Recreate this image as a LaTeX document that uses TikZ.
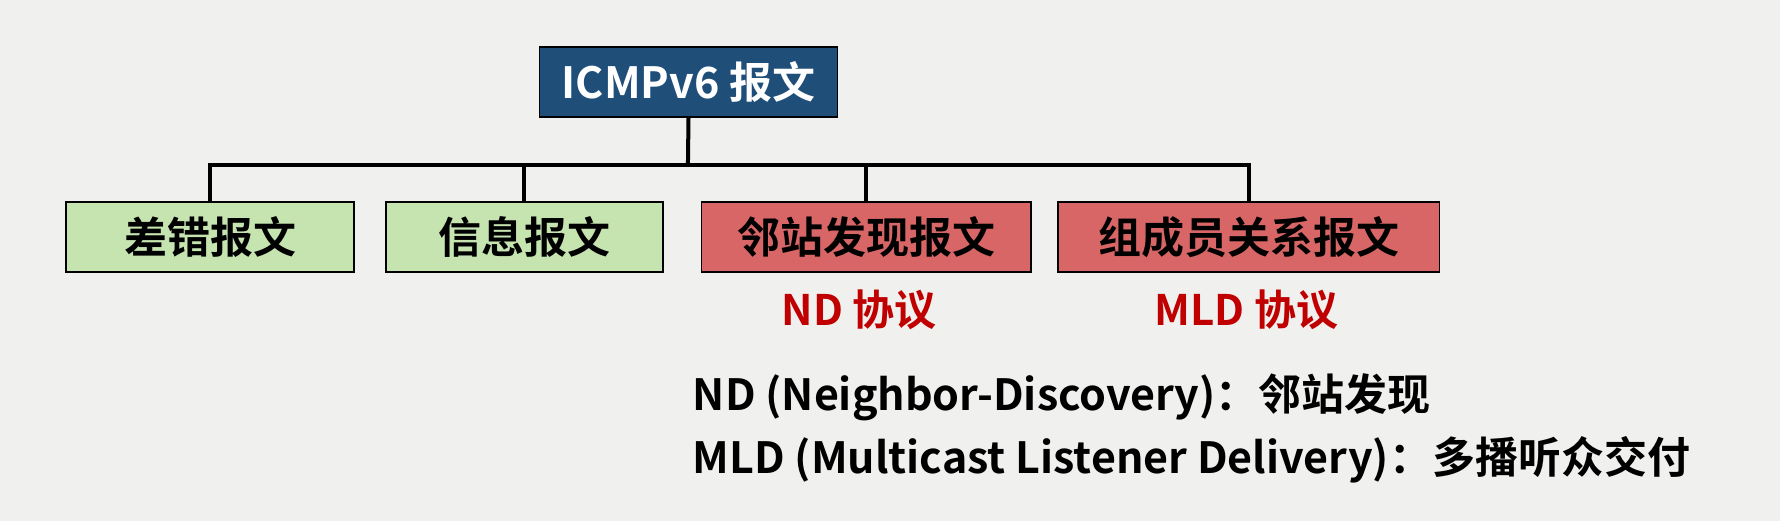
\documentclass[tikz,border=0pt]{standalone}
\usepackage{fontspec}
\setmainfont{Noto Sans CJK SC}[BoldFont={Noto Sans CJK SC Bold}]
\definecolor{bg}{HTML}{F0F0EF}
\definecolor{topc}{HTML}{1F4E79}
\definecolor{grn}{HTML}{C5E4B0}
\definecolor{redc}{HTML}{D96666}
\definecolor{lab}{HTML}{C00000}
\begin{document}
\begin{tikzpicture}[x=0.5676pt,y=-0.5676pt,
  box/.style={draw=black,line width=0.8pt,minimum height=35pt,font=\bfseries\fontsize{21.5}{24}\selectfont,inner sep=0pt},
  conn/.style={line width=2pt}]
\fill[bg] (0,0) rectangle (1568,459);
\useasboundingbox (0,0) rectangle (1568,459);
\node[box,fill=topc,text=white,minimum width=149pt] (top) at (606.5,72.5) {ICMPv6 报文};
\node[box,fill=grn,minimum width=144pt] (a) at (185,209) {差错报文};
\node[box,fill=grn,minimum width=138.5pt] (b) at (462,209) {信息报文};
\node[box,fill=redc,minimum width=164.6pt] (c) at (763,209) {邻站发现报文};
\node[box,fill=redc,minimum width=190.7pt] (d) at (1100,209) {组成员关系报文};
\coordinate (j) at (606,145);
\draw[conn] (top.south) -- (j);
\draw[conn] (a.north) |- (j);
\draw[conn] (b.north) |- (j);
\draw[conn] (c.north) |- (j);
\draw[conn] (d.north) |- (j);
\node[text=lab,font=\bfseries\fontsize{21}{24}\selectfont] (l1) at (757,273) {ND 协议};
\node[text=lab,font=\bfseries\fontsize{21}{24}\selectfont] (l2) at (1098,273) {MLD 协议};
\node[anchor=west,font=\bfseries\fontsize{21.5}{24}\selectfont,inner sep=0pt] (t1) at (610,350) {ND (Neighbor-Discovery)：邻站发现};
\node[anchor=west,font=\bfseries\fontsize{21.5}{24}\selectfont,inner sep=0pt] (t2) at (610,405) {MLD (Multicast Listener Delivery)：多播听众交付};
\end{tikzpicture}
\end{document}
